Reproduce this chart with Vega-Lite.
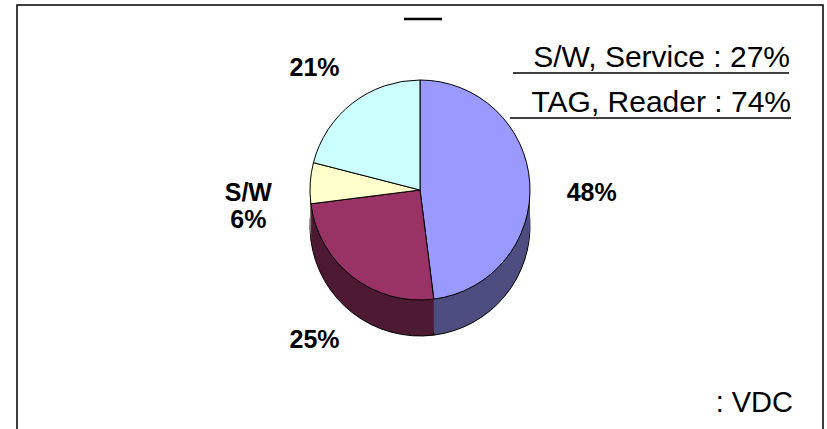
{
  "$schema": "https://vega.github.io/schema/vega-lite/v6.json",
  "width": 806,
  "height": 430,
  "autosize": {"type": "none"},
  "padding": {"left": 17, "top": 5, "right": 4, "bottom": 0},
  "background": "#ffffff",
  "config": {"view": {"stroke": "#000000", "strokeWidth": 1.5}, "font": "Liberation Sans"},
  "data": {
    "values": [
      {"slice": "48%", "label": "48%", "share": 48, "rank": 1},
      {"slice": "25%", "label": "25%", "share": 25, "rank": 2},
      {"slice": "S/W 6%", "label": "S/W\n6%", "share": 6, "rank": 3},
      {"slice": "21%", "label": "21%", "share": 21, "rank": 4}
    ]
  },
  "layer": [
    {
      "encoding": {
        "theta": {"field": "share", "type": "quantitative", "stack": true},
        "order": {"field": "rank", "type": "quantitative"},
        "color": {
          "field": "slice",
          "type": "nominal",
          "scale": {"domain": ["48%", "25%", "S/W 6%", "21%"], "range": ["#4D4D80", "#4D1933", "#80806A", "#668080"]},
          "legend": null
        }
      },
      "layer": [
        {"mark": {"type": "arc", "radius": 110, "yOffset": 6, "stroke": "#000000", "strokeWidth": 1}},
        {"mark": {"type": "arc", "radius": 110, "yOffset": 3}},
        {"mark": {"type": "arc", "radius": 110, "yOffset": 0}},
        {"mark": {"type": "arc", "radius": 110, "yOffset": -3}},
        {"mark": {"type": "arc", "radius": 110, "yOffset": -6}},
        {"mark": {"type": "arc", "radius": 110, "yOffset": -9}},
        {"mark": {"type": "arc", "radius": 110, "yOffset": -12}},
        {"mark": {"type": "arc", "radius": 110, "yOffset": -15}},
        {"mark": {"type": "arc", "radius": 110, "yOffset": -18}},
        {"mark": {"type": "arc", "radius": 110, "yOffset": -21}},
        {"mark": {"type": "arc", "radius": 110, "yOffset": -24}},
        {"mark": {"type": "arc", "radius": 110, "yOffset": -27}}
      ]
    },
    {
      "mark": {"type": "arc", "radius": 110, "yOffset": -30, "stroke": "#000000", "strokeWidth": 1},
      "encoding": {
        "theta": {"field": "share", "type": "quantitative", "stack": true},
        "order": {"field": "rank", "type": "quantitative"},
        "color": {
          "field": "slice",
          "type": "nominal",
          "scale": {"domain": ["48%", "25%", "S/W 6%", "21%"], "range": ["#9999FF", "#993366", "#FFFFCC", "#CCFFFF"]},
          "legend": null
        }
      }
    },
    {
      "mark": {"type": "text", "radius": 172, "yOffset": -16, "fontSize": 25, "fontWeight": "bold", "lineBreak": "\n", "font": "Liberation Sans", "color": "#000000"},
      "encoding": {
        "theta": {"field": "share", "type": "quantitative", "stack": true},
        "order": {"field": "rank", "type": "quantitative"},
        "text": {"field": "label"}
      }
    },
    {
      "data": {"values": [{"note": "S/W, Service : 27%"}]},
      "mark": {"type": "text", "align": "right", "baseline": "alphabetic", "fontSize": 30, "font": "Liberation Sans", "color": "#000000"},
      "encoding": {"text": {"field": "note"}, "x": {"value": 773}, "y": {"value": 62}}
    },
    {
      "data": {"values": [{"note": "TAG, Reader : 74%"}]},
      "mark": {"type": "text", "align": "right", "baseline": "alphabetic", "fontSize": 30, "font": "Liberation Sans", "color": "#000000"},
      "encoding": {"text": {"field": "note"}, "x": {"value": 774}, "y": {"value": 107}}
    },
    {
      "data": {"values": [{"note": ": VDC"}]},
      "mark": {"type": "text", "align": "right", "baseline": "alphabetic", "fontSize": 29, "font": "Liberation Sans", "color": "#000000"},
      "encoding": {"text": {"field": "note"}, "x": {"value": 776}, "y": {"value": 407}}
    },
    {
      "data": {"values": [{"line": "underline 1"}]},
      "mark": {"type": "rule", "color": "#000000", "strokeWidth": 1.5},
      "encoding": {"x": {"value": 496}, "x2": {"value": 772}, "y": {"value": 68}}
    },
    {
      "data": {"values": [{"line": "underline 2"}]},
      "mark": {"type": "rule", "color": "#000000", "strokeWidth": 1.5},
      "encoding": {"x": {"value": 493}, "x2": {"value": 774}, "y": {"value": 113}}
    },
    {
      "data": {"values": [{"line": "title underline"}]},
      "mark": {"type": "rule", "color": "#000000", "strokeWidth": 2.5},
      "encoding": {"x": {"value": 387}, "x2": {"value": 425}, "y": {"value": 14}}
    }
  ],
  "resolve": {"scale": {"color": "independent"}}
}
